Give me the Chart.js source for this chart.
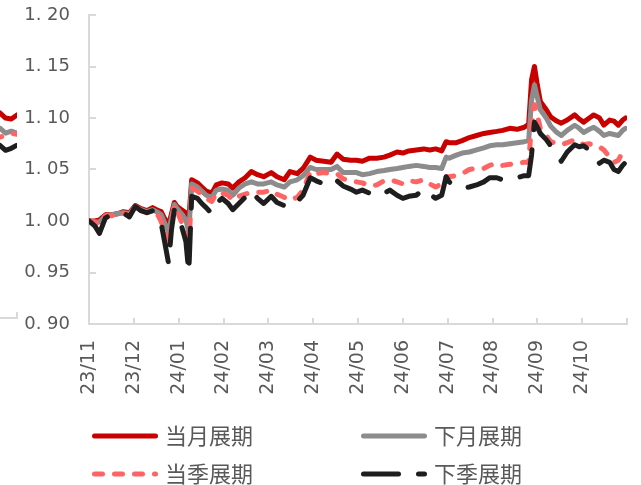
<!DOCTYPE html>
<html><head><meta charset="utf-8">
<script src="https://cdn.jsdelivr.net/npm/chart.js@4.4.1/dist/chart.umd.min.js"></script>
<style>
html,body{margin:0;padding:0;background:#fff;overflow:hidden;}
#wrap{position:relative;width:641px;height:485px;overflow:hidden;}
#main{position:absolute;left:0;top:0;}
#frag{position:absolute;left:-40px;top:0;}
</style></head><body>
<div id="wrap"><canvas id="frag" width="58" height="330"></canvas><canvas id="main" width="641" height="485"></canvas></div>
<script>
// ---------- data ----------
const seriesNames = ['当月展期','下月展期','当季展期','下季展期'];
const monthLabels = ['23/11','23/12','24/01','24/02','24/03','24/04','24/05','24/06','24/07','24/08','24/09','24/10'];
const yTicks = [0.90,0.95,1.00,1.05,1.10,1.15,1.20];
const dates = ['2023-11-01','2023-11-05','2023-11-08','2023-11-12','2023-11-16','2023-11-20','2023-11-24','2023-11-28',
'2023-12-02','2023-12-06','2023-12-10','2023-12-14','2023-12-18','2023-12-20','2023-12-22','2023-12-25','2023-12-27','2023-12-29','2023-12-31',
'2024-01-03','2024-01-06','2024-01-08','2024-01-10','2024-01-14','2024-01-17','2024-01-20','2024-01-24','2024-01-27','2024-01-31',
'2024-02-04','2024-02-07','2024-02-11','2024-02-15','2024-02-19','2024-02-23','2024-02-27',
'2024-03-03','2024-03-07','2024-03-12','2024-03-16','2024-03-21','2024-03-25','2024-03-30',
'2024-04-03','2024-04-08','2024-04-13','2024-04-17','2024-04-21','2024-04-26','2024-04-30',
'2024-05-04','2024-05-09','2024-05-14','2024-05-19','2024-05-23','2024-05-28',
'2024-06-01','2024-06-05','2024-06-10','2024-06-15','2024-06-19','2024-06-23','2024-06-27','2024-06-30',
'2024-07-02','2024-07-07','2024-07-11','2024-07-16','2024-07-21','2024-07-26','2024-07-30',
'2024-08-04','2024-08-08','2024-08-13','2024-08-18','2024-08-23','2024-08-26','2024-08-28','2024-08-30',
'2024-09-01','2024-09-03','2024-09-07','2024-09-10','2024-09-14','2024-09-17','2024-09-21','2024-09-26','2024-09-29',
'2024-10-02','2024-10-06','2024-10-09','2024-10-13','2024-10-16','2024-10-20','2024-10-23','2024-10-26','2024-10-29','2024-10-31'];
const curMonth = [1.000,1.000,1.001,1.006,1.006,1.007,1.009,1.008,
1.015,1.012,1.010,1.013,1.010,1.009,1.003,0.996,1.007,1.018,1.014,
1.011,1.008,1.001,1.040,1.037,1.033,1.029,1.027,1.035,1.037,
1.036,1.032,1.038,1.042,1.048,1.045,1.043,
1.047,1.043,1.040,1.048,1.046,1.051,1.062,
1.059,1.058,1.057,1.065,1.060,1.059,1.059,
1.058,1.061,1.061,1.062,1.064,1.067,
1.066,1.068,1.069,1.070,1.069,1.070,1.068,1.077,
1.076,1.076,1.078,1.081,1.083,1.085,1.086,
1.087,1.088,1.090,1.089,1.091,1.094,1.137,1.150,
1.132,1.116,1.108,1.101,1.097,1.095,1.098,1.103,1.099,
1.096,1.100,1.103,1.100,1.093,1.098,1.097,1.093,1.098,1.100];
const nextMonth = [1.000,0.999,0.999,1.005,1.006,1.007,1.008,1.007,
1.014,1.011,1.009,1.011,1.008,1.006,0.999,0.989,1.003,1.016,1.012,
1.007,1.001,0.989,1.036,1.033,1.029,1.025,1.023,1.030,1.031,
1.030,1.025,1.032,1.036,1.038,1.036,1.036,
1.038,1.035,1.033,1.038,1.040,1.044,1.052,
1.050,1.050,1.050,1.053,1.047,1.047,1.047,
1.045,1.046,1.048,1.049,1.050,1.051,
1.052,1.053,1.054,1.053,1.052,1.052,1.051,1.062,
1.061,1.064,1.066,1.067,1.069,1.071,1.073,
1.074,1.074,1.075,1.076,1.077,1.078,1.117,1.132,
1.120,1.108,1.100,1.092,1.086,1.083,1.088,1.093,1.090,
1.086,1.089,1.091,1.087,1.083,1.085,1.084,1.083,1.088,1.090];
const curQuarter = [1.000,0.999,0.997,1.005,1.005,1.006,1.007,1.006,
1.013,1.010,1.008,1.009,1.005,0.999,0.989,0.977,0.996,1.015,1.009,
0.999,0.986,0.972,1.032,1.029,1.026,1.022,1.019,1.027,1.027,
1.025,1.020,1.024,1.026,1.028,1.028,1.028,
1.030,1.026,1.023,1.020,1.023,1.030,1.048,
1.046,1.047,1.046,1.046,1.041,1.039,1.038,
1.037,1.034,1.035,1.039,1.040,1.038,
1.036,1.039,1.038,1.040,1.036,1.033,1.036,1.043,
1.043,1.044,1.046,1.050,1.051,1.051,1.054,
1.056,1.054,1.055,1.056,1.057,1.057,1.093,1.113,
1.103,1.090,1.083,1.077,1.075,1.074,1.076,1.079,1.077,
1.074,1.075,1.073,1.072,1.069,1.062,1.057,1.059,1.067,1.067];
const nextQuarter = [1.000,0.995,0.988,1.003,1.006,1.007,1.008,1.004,
1.014,1.010,1.008,1.010,1.005,0.997,0.982,0.959,0.991,1.011,1.006,
0.995,0.980,0.950,1.024,1.022,1.017,1.013,1.007,1.017,1.022,
1.017,1.011,1.017,1.023,1.030,1.022,1.017,
1.024,1.018,1.015,1.013,1.019,1.025,1.042,
1.039,1.036,1.034,1.039,1.034,1.031,1.028,
1.030,1.027,1.024,1.027,1.030,1.025,
1.022,1.024,1.025,1.031,1.026,1.022,1.025,1.043,
1.038,1.033,1.032,1.033,1.035,1.038,1.042,
1.042,1.040,1.040,1.042,1.044,1.044,1.064,1.096,
1.091,1.085,1.079,1.073,1.066,1.058,1.067,1.074,1.072,
1.073,1.069,1.062,1.056,1.059,1.057,1.050,1.048,1.054,1.057];
// cropped tail of the neighbouring chart at the far left edge
const fragIdx = [6,7,8,9,10];
const fragCurMonth = [1.105,1.103,1.098,1.097,1.101];
const fragNextMonth = [1.089,1.088,1.083,1.085,1.083];
const fragCurQuarter = [1.081,1.079,1.081,1.083,1.082];
const fragNextQuarter = [1.072,1.071,1.066,1.068,1.071];

// ---------- helpers ----------
function monthPos(s){
  const [y,m,d] = s.split('-').map(Number);
  const dim = new Date(y, m, 0).getDate();
  return (y-2023)*12 + (m-11) + (d-1)/dim;
}
const xs = dates.map(monthPos);
const pts = vals => vals.map((v,i)=>({x:xs[i], y:v}));

const styles = [
  {color:'#C80000', dash:[], order:4},
  {color:'#8C8C8C', dash:[], order:3},
  {color:'#FF6464', dash:[8,12], order:2},
  {color:'#1E1E1E', dash:[35,20], order:1}
];
const AXIS = '#D9D9D9', TXT = '#595959', LW = 5;

function mkDs(label, data, st){
  return {label, data, borderColor:st.color, backgroundColor:st.color, borderWidth:LW,
    borderDash:st.dash, borderCapStyle:'round', borderJoinStyle:'round',
    pointRadius:0, tension:0, order:st.order, fill:false};
}
function noPad(s){ s.paddingTop = 0; s.paddingBottom = 0; s.paddingLeft = 0; s.paddingRight = 0; }

const innerTicks = {id:'innerTicks', beforeDatasetsDraw(chart){
  const {ctx, chartArea:a, scales:{x,y}} = chart;
  ctx.save(); ctx.strokeStyle = AXIS; ctx.lineWidth = 2;
  y.ticks.forEach(t=>{const py=Math.round(y.getPixelForValue(t.value)); ctx.beginPath(); ctx.moveTo(a.left, py); ctx.lineTo(a.left+7, py); ctx.stroke();});
  x.ticks.forEach(t=>{const px=Math.round(x.getPixelForValue(t.value)); ctx.beginPath(); ctx.moveTo(px, a.bottom); ctx.lineTo(px, a.bottom-6); ctx.stroke();});
  ctx.restore();
}};

const legendPos = [{x:92,y:436},{x:361,y:436},{x:92,y:474},{x:361,y:474}];
const customLegend = {id:'customLegend', afterDraw(chart){
  const ctx = chart.ctx;
  ctx.save();
  chart.data.datasets.forEach((ds,i)=>{
    const p = legendPos[i];
    ctx.strokeStyle = ds.borderColor; ctx.lineWidth = LW; ctx.lineCap='round';
    ctx.setLineDash(ds.borderDash||[]);
    ctx.beginPath(); ctx.moveTo(p.x+2.5, p.y); ctx.lineTo(p.x+63.5, p.y); ctx.stroke();
    ctx.setLineDash([]);
    ctx.fillStyle = TXT; ctx.font = '22px "Noto Sans CJK SC"'; ctx.textBaseline='middle'; ctx.textAlign='left';
    ctx.fillText(ds.label, p.x+73, p.y);
  });
  ctx.restore();
}};

new Chart(document.getElementById('main'), {
  type:'line',
  data:{datasets:[
    mkDs(seriesNames[0], pts(curMonth), styles[0]),
    mkDs(seriesNames[1], pts(nextMonth), styles[1]),
    mkDs(seriesNames[2], pts(curQuarter), styles[2]),
    mkDs(seriesNames[3], pts(nextQuarter), styles[3])
  ]},
  options:{
    responsive:false, animation:false, devicePixelRatio:1,
    layout:{padding:{left:0,right:14,top:15,bottom:0}},
    plugins:{legend:{display:false}, tooltip:{enabled:false}},
    scales:{
      x:{type:'linear', min:0, max:12,
        afterBuildTicks:s=>{ s.ticks = monthLabels.map((l,i)=>({value:i})).concat([{value:monthLabels.length}]); },
        ticks:{autoSkip:false, maxRotation:90, minRotation:90, padding:16, color:TXT,
          font:{family:'DejaVu Sans', size:19}, callback:(v)=> monthLabels[v] !== undefined ? monthLabels[v] : ''},
        grid:{display:false, drawTicks:false},
        border:{display:true, color:AXIS, width:2},
        afterFit:s=>{ s.height = 161; noPad(s); }
      },
      y:{min:0.9, max:1.2,
        afterBuildTicks:s=>{ s.ticks = yTicks.map(v=>({value:v})); },
        ticks:{padding:19, color:TXT, font:{family:'DejaVu Sans', size:18},
          callback:v=> Number(v).toFixed(2).replace('.', '. ')},
        grid:{display:false, drawTicks:false},
        border:{display:true, color:AXIS, width:2},
        afterFit:s=>{ s.width = 89; noPad(s); }
      }
    }
  },
  plugins:[innerTicks, customLegend]
});

// fragment of the neighbouring chart (cut off at the left edge)
const fpts = vals => vals.map((v,i)=>({x:fragIdx[i], y:v}));
const fragTick = {id:'fragTick', beforeDatasetsDraw(chart){
  const {ctx, chartArea:a, scales:{x}} = chart;
  ctx.save(); ctx.strokeStyle = AXIS; ctx.lineWidth = 2;
  const px = Math.round(x.getPixelForValue(x.max));
  ctx.beginPath(); ctx.moveTo(px, a.bottom); ctx.lineTo(px, a.bottom-6); ctx.stroke();
  ctx.restore();
}};
new Chart(document.getElementById('frag'), {
  type:'line',
  data:{datasets:[
    mkDs(seriesNames[0], fpts(fragCurMonth), styles[0]),
    mkDs(seriesNames[1], fpts(fragNextMonth), styles[1]),
    mkDs(seriesNames[2], fpts(fragCurQuarter), styles[2]),
    mkDs(seriesNames[3], fpts(fragNextQuarter), styles[3])
  ]},
  options:{
    responsive:false, animation:false, devicePixelRatio:1,
    layout:{padding:{left:0,right:1,top:15,bottom:0}},
    plugins:{legend:{display:false}, tooltip:{enabled:false}},
    scales:{
      x:{type:'linear', min:0, max:10, ticks:{display:false}, grid:{display:false, drawTicks:false},
        border:{display:true, color:AXIS, width:2}, afterFit:s=>{ s.height = 12; noPad(s); }},
      y:{display:false, min:0.9, max:1.2}
    }
  },
  plugins:[fragTick]
});
</script>
</body></html>
